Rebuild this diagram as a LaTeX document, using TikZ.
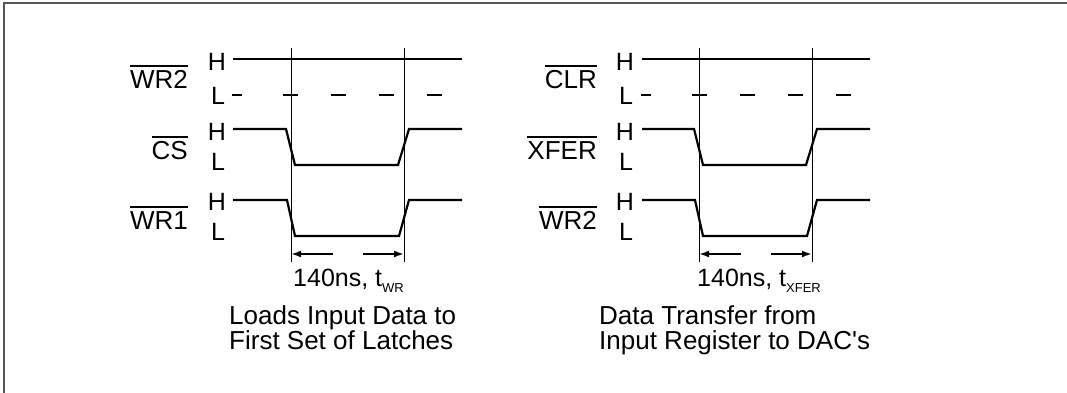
\documentclass[tikz,border=0pt]{standalone}
\usepackage{fontspec}
\setmainfont{Liberation Sans}
\usetikzlibrary{arrows.meta}
\definecolor{frameGray}{RGB}{85, 85, 85}
\newcommand{\sigbar}[1]{\setbox0\hbox{#1}\rlap{\rule[\dimexpr\ht0+4pt\relax]{\wd0}{1.6pt}}\box0}
\tikzset{
  wave/.style={
    line width=2.2pt,
    line join=miter
  },
  guide/.style={
    line width=0.8pt
  },
  lowdash/.style={
    line width=2.2pt,
    dash pattern=on 10pt off 41pt on 15pt off 33pt on 15pt off 33pt on 15pt off 33pt on 16pt off 40pt
  },
  signame/.style={
    anchor=east,
    inner sep=0pt,
    font=\fontsize{26}{28}\selectfont
  },
  level/.style={
    inner sep=0pt,
    font=\fontsize{25}{28}\selectfont
  },
  timing/.style={
    anchor=base west,
    inner sep=0pt,
    font=\fontsize{25}{28}\selectfont
  },
  caption/.style={
    anchor=north west,
    inner sep=0pt,
    align=left,
    font=\fontsize{26}{25}\selectfont
  },
  dimarrow/.style={
    -{Latex[length=10pt, width=7pt]},
    line width=1.8pt
  }
}

\begin{document}
\begin{tikzpicture}[x=1pt, y=-1pt]
      \useasboundingbox (0,0) rectangle (1067,393);
      % frame
      \draw[line width=2pt, draw=frameGray] (4,393) -- (4,3) -- (1067,3);

      % Left: loads input data
      \node[signame] (wrtwoA) at (188,77) {\sigbar{WR2}};
      \node[signame] (csA) at (188,148) {\sigbar{CS}};
      \node[signame] (wroneA) at (188,218) {\sigbar{WR1}};
      \node[level] (hA1) at (217,62) {H};
      \node[level] (lA1) at (218,96) {L};
      \node[level] (hA2) at (217,132) {H};
      \node[level] (lA2) at (218,162) {L};
      \node[level] (hA3) at (217,202) {H};
      \node[level] (lA3) at (218,232) {L};
      \draw[wave] (233,59) -- (462,59);
      \draw[lowdash] (232,95) -- (442,95);
      \draw[wave] (233,129) -- (286,129) -- (295,165) -- (398,165) -- (409,129) -- (462,129);
      \draw[wave] (233,200) -- (287,200) -- (295,236) -- (399,236) -- (409,200) -- (462,200);
      \coordinate (gA1) at (291,48);  \coordinate (gA2) at (291,262);
      \coordinate (gA3) at (404,48);  \coordinate (gA4) at (404,262);
      \draw[guide] (gA1) -- (gA2);
      \draw[guide] (gA3) -- (gA4);
      \coordinate (dA1) at (291,254); \coordinate (dA2) at (333,254);
      \coordinate (dA3) at (363,254); \coordinate (dA4) at (404,254);
      \draw[dimarrow] (dA2) -- (dA1);
      \draw[dimarrow] (dA3) -- (dA4);
      \node[timing] (twrA) at (293,286) {140ns, t\raisebox{-6pt}{\fontsize{13}{13}\selectfont WR}};
      \node[caption] (capA) at (229,305) {Loads Input Data to\\First Set of Latches};

      % Right: data transfer
      \node[signame] (clrB) at (597,77) {\sigbar{CLR}};
      \node[signame] (xferB) at (597,148) {\sigbar{XFER}};
      \node[signame] (wrtwoB) at (597,218) {\sigbar{WR2}};
      \node[level] (hB1) at (625,62) {H};
      \node[level] (lB1) at (626,96) {L};
      \node[level] (hB2) at (625,132) {H};
      \node[level] (lB2) at (626,162) {L};
      \node[level] (hB3) at (625,202) {H};
      \node[level] (lB3) at (626,232) {L};
      \draw[wave] (642,59) -- (870,59);
      \draw[lowdash] (641,95) -- (851,95);
      \draw[wave] (642,129) -- (694,129) -- (703,165) -- (806,165) -- (817,129) -- (870,129);
      \draw[wave] (642,200) -- (695,200) -- (703,236) -- (807,236) -- (817,200) -- (870,200);
      \coordinate (gB1) at (699,48);  \coordinate (gB2) at (699,262);
      \coordinate (gB3) at (812,48);  \coordinate (gB4) at (812,262);
      \draw[guide] (gB1) -- (gB2);
      \draw[guide] (gB3) -- (gB4);
      \coordinate (dB1) at (699,254); \coordinate (dB2) at (741,254);
      \coordinate (dB3) at (771,254); \coordinate (dB4) at (812,254);
      \draw[dimarrow] (dB2) -- (dB1);
      \draw[dimarrow] (dB3) -- (dB4);
      \node[timing] (txferB) at (697,286) {140ns, t\raisebox{-6pt}{\fontsize{13}{13}\selectfont XFER}};
      \node[caption] (capB) at (599,305) {Data Transfer from\\Input Register to DAC\textquotesingle s};
    \end{tikzpicture}
\end{document}
